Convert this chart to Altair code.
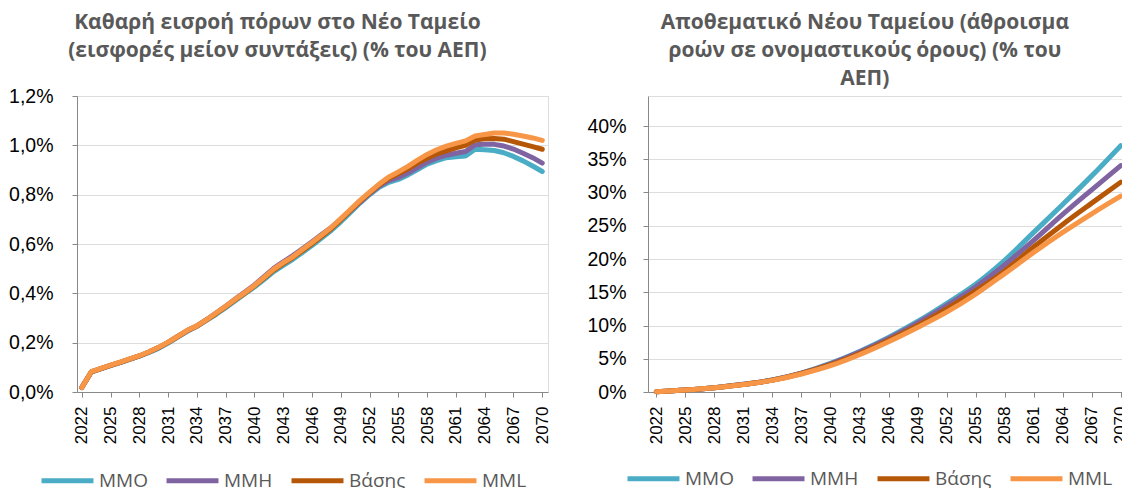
import altair as alt
import pandas as pd

# ---------------- data ----------------
series = ["MMO", "MMH", "Βάσης", "MML"]
colors = ["#4BACC6", "#8064A2", "#B65708", "#F79646"]

years = list(range(2022, 2071))
tick_years = [2022, 2025, 2028, 2031, 2034, 2037, 2040, 2043, 2046, 2049,
              2052, 2055, 2058, 2061, 2064, 2067, 2070]

# Net inflow to the New Fund (% of GDP), yearly 2022-2070
flow_mmo = [0.018, 0.082, 0.095, 0.107, 0.119, 0.132, 0.145, 0.160, 0.177, 0.198,
            0.222, 0.246, 0.266, 0.290, 0.315, 0.342, 0.370, 0.398, 0.426, 0.456,
            0.488, 0.513, 0.538, 0.566, 0.594, 0.624, 0.655, 0.690, 0.728, 0.766,
            0.800, 0.830, 0.850, 0.862, 0.880, 0.902, 0.924, 0.938, 0.950, 0.954,
            0.957, 0.984, 0.982, 0.979, 0.970, 0.955, 0.937, 0.916, 0.894]
flow_mmh = [0.018, 0.082, 0.095, 0.108, 0.120, 0.133, 0.146, 0.162, 0.180, 0.201,
            0.225, 0.249, 0.268, 0.293, 0.320, 0.348, 0.377, 0.405, 0.434, 0.468,
            0.501, 0.528, 0.553, 0.581, 0.609, 0.638, 0.667, 0.700, 0.735, 0.770,
            0.804, 0.835, 0.857, 0.870, 0.888, 0.910, 0.932, 0.948, 0.960, 0.968,
            0.975, 1.002, 1.004, 1.004, 0.997, 0.985, 0.968, 0.950, 0.928]
flow_base = [0.018, 0.082, 0.095, 0.108, 0.120, 0.133, 0.146, 0.162, 0.180, 0.201,
             0.225, 0.249, 0.267, 0.292, 0.318, 0.346, 0.374, 0.401, 0.430, 0.462,
             0.494, 0.520, 0.545, 0.573, 0.601, 0.631, 0.662, 0.698, 0.736, 0.773,
             0.807, 0.840, 0.866, 0.885, 0.905, 0.928, 0.948, 0.965, 0.978, 0.990,
             1.000, 1.022, 1.027, 1.028, 1.025, 1.015, 1.005, 0.995, 0.984]
flow_mml = [0.018, 0.083, 0.096, 0.109, 0.121, 0.134, 0.147, 0.163, 0.181, 0.202,
            0.226, 0.250, 0.268, 0.293, 0.320, 0.348, 0.376, 0.403, 0.432, 0.465,
            0.498, 0.524, 0.548, 0.578, 0.606, 0.636, 0.667, 0.703, 0.740, 0.777,
            0.810, 0.843, 0.872, 0.892, 0.915, 0.940, 0.963, 0.982, 0.997, 1.008,
            1.018, 1.038, 1.044, 1.050, 1.050, 1.045, 1.038, 1.030, 1.020]

# New Fund reserve (cumulative nominal flows, % of GDP), at tick years
fund_mmo = [0.05, 0.30, 0.65, 1.15, 1.80, 2.85, 4.30, 6.10, 8.20, 10.6,
            13.3, 16.2, 19.8, 24.0, 28.2, 32.5, 37.05]
fund_mmh = [0.05, 0.30, 0.65, 1.15, 1.80, 2.83, 4.25, 6.00, 8.05, 10.4,
            13.0, 15.8, 19.1, 22.8, 26.7, 30.4, 34.05]
fund_base = [0.05, 0.30, 0.65, 1.13, 1.78, 2.78, 4.10, 5.80, 7.80, 10.0,
             12.5, 15.2, 18.2, 21.8, 25.2, 28.4, 31.55]
fund_mml = [0.05, 0.30, 0.64, 1.12, 1.75, 2.70, 3.95, 5.60, 7.55, 9.70,
            12.0, 14.7, 17.8, 21.0, 24.0, 26.8, 29.45]

left_title = ["Καθαρή εισροή πόρων στο Νέο Ταμείο",
              "(εισφορές μείον συντάξεις) (% του ΑΕΠ)"]
right_title = ["Αποθεματικό Νέου Ταμείου (άθροισμα",
               "ροών σε ονομαστικούς όρους) (% του",
               "ΑΕΠ)"]
left_ticks = [0.0, 0.2, 0.4, 0.6, 0.8, 1.0, 1.2]
right_ticks = [0, 5, 10, 15, 20, 25, 30, 35, 40]


def long_table(xs, cols):
    rows = []
    for name, vals in zip(series, cols):
        for x, v in zip(xs, vals):
            rows.append({"year": x, "value": v, "series": name})
    return pd.DataFrame(rows)


df_flow = long_table(years, [flow_mmo, flow_mmh, flow_base, flow_mml])
df_fund = long_table(tick_years, [fund_mmo, fund_mmh, fund_base, fund_mml])

FONT = "Open Sans"
GREY = "#595959"
GRID = "#D9D9D9"
PLOT_H = 296


def panel(df, title, toff, tdx, xdom, ydom, yticks, ylabel_expr, ypad, w, lx,
          ly, interp):
    legend = alt.Legend(
        title=None, orient="none", legendX=lx, legendY=ly,
        direction="horizontal", columns=4, symbolType="stroke",
        symbolSize=2700, symbolStrokeWidth=5, labelFontSize=19,
        labelFont=FONT, labelColor=GREY, labelOffset=3, columnPadding=8,
    )
    return alt.Chart(
        df,
        title=alt.TitleParams(
            text=title, font=FONT, fontSize=21, fontWeight="bold", color=GREY,
            anchor="middle", frame="bounds", lineHeight=28, offset=toff, dx=tdx,
        ),
    ).mark_line(
        strokeWidth=5, strokeCap="round", strokeJoin="round", interpolate=interp
    ).encode(
        x=alt.X("year:Q", title=None,
                scale=alt.Scale(domain=xdom, nice=False, zero=False),
                axis=alt.Axis(values=tick_years, format="d", labelAngle=270,
                              grid=False, labelFontSize=17, labelPadding=9)),
        y=alt.Y("value:Q", title=None,
                scale=alt.Scale(domain=ydom, nice=False, zero=True),
                axis=alt.Axis(values=yticks, labelExpr=ylabel_expr, grid=True,
                              labelFontSize=19.5, labelPadding=ypad)),
        color=alt.Color("series:N", sort=series,
                        scale=alt.Scale(domain=series, range=colors),
                        legend=legend),
    ).properties(width=w, height=PLOT_H)


left = panel(df_flow, left_title, 25, -2, [2021.5, 2070.6], [0, 1.2], left_ticks,
             "replace(format(datum.value, '.1f'), '.', ',') + '%'", 19,
             471, -38, 356, "linear")
# right panel: 40% sits 30px below the top of its plot area
right = panel(df_fund, right_title, 7, 7, [2021.14, 2070.13],
              [0, 40 * 296 / 266], right_ticks,
              "format(datum.value, 'd') + '%'", 17,
              474, -23, 354, "monotone")

chart = alt.hconcat(left, right, spacing=35).resolve_legend(
    color="independent"
).properties(
    padding={"left": 0, "top": 3, "right": -8, "bottom": -4}
).configure_view(stroke=None).configure_axis(
    labelFont=FONT, labelColor=GREY, domain=False, ticks=False,
    gridColor=GRID, gridWidth=1.5,
).configure(background="white")

chart.save("out.html", embed_options={"renderer": "svg", "actions": False})
